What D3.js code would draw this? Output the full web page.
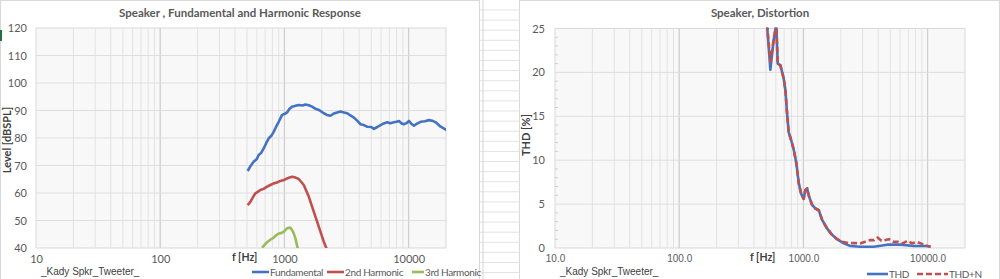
<!DOCTYPE html>
<html><head><meta charset="utf-8">
<script src="https://cdn.jsdelivr.net/npm/d3@7"></script>
<style>
html,body{margin:0;padding:0;background:#fff;}
svg{display:block;}
</style></head>
<body>
<svg id="c" width="1000" height="279"></svg>
<script>
// ---------- data ----------
const fundFreq = [506,530,565,600,621,650,681,715,748,785,821,860,900,958,1000,1051,1100,1154,1230,1305,1400,1477,1570,1671,1780,1891,2075,2200,2349,2500,2660,2831,3010,3206,3400,3626,3850,4103,4400,4644,5000,5254,5600,5944,6300,6726,7100,7613,8000,8356,8800,9163,9600,10060,10500,11040,11700,12500,13500,14590,15500,16520,18110,20240];
const fundLevel = [68.0,69.6,71.4,72.4,73.8,74.6,76.2,78.2,79.9,80.8,82.3,84.2,85.9,88.4,88.7,89.3,90.6,91.4,91.7,92.0,91.8,92.2,91.9,91.4,90.6,90.2,89.0,88.4,88.1,88.9,89.3,89.6,89.3,89.0,88.2,87.4,86.3,85.0,84.6,84.1,84.0,83.3,84.0,84.7,85.3,85.7,85.4,85.7,85.9,86.2,85.3,85.0,85.4,86.2,85.2,84.5,85.2,85.9,86.1,86.5,86.3,85.7,84.1,82.9];
const h2Freq = [506,520,532,560,584,610,640,680,725,770,820,870,929,990,1051,1100,1154,1230,1305,1432,1571,1723,1891,2075,2183];
const h2Level = [55.6,56.2,56.8,58.6,59.9,60.4,61.1,61.5,62.3,62.9,63.5,63.8,64.4,64.7,65.3,65.6,65.9,65.6,65.1,62.9,58.7,53.2,47.8,42.3,39.8];
const h3Freq = [661,690,725,770,820,860,900,940,987,1051,1117,1175,1227,1281];
const h3Level = [40.1,41.1,42.1,43.0,43.8,44.6,45.3,45.4,45.9,47.2,47.4,45.9,43.5,39.8];

const thdFreq = [509,542,576,605,621,653,694,716,739,761,796,836,879,917,958,1005,1037,1071,1103,1175,1250,1329,1415,1553,1703,1869,2113,2393,2882,3691,4731,6056,7755,9950,10570];
const thdVal  = [25.5,20.3,23.7,25.5,21.0,20.8,19.3,18.0,15.3,13.2,12.3,11.2,9.6,7.4,6.2,5.6,6.6,6.8,6.0,4.9,4.5,4.3,3.2,2.2,1.5,1.0,0.53,0.23,0.15,0.15,0.38,0.38,0.23,0.23,0.15];
const thdnFreq = [509,542,576,605,621,653,694,716,739,761,796,836,879,917,958,1005,1037,1071,1103,1175,1250,1329,1415,1553,1703,1869,2050,2300,2650,2882,3150,3450,3700,3950,4250,4550,4900,5300,5750,6300,6900,7500,8200,8900,9950,10570];
const thdnVal  = [25.5,21.2,23.7,25.5,21.0,20.8,19.3,18.0,15.3,13.2,12.3,11.2,9.6,7.4,6.2,5.6,6.6,6.8,6.0,4.9,4.5,4.3,3.2,2.2,1.5,1.0,0.72,0.55,0.55,0.53,0.72,0.9,0.9,1.2,0.83,0.9,1.0,0.72,0.72,0.53,0.83,0.53,0.7,0.5,0.23,0.15];

const leftTitle = "Speaker , Fundamental and Harmonic Response";
const rightTitle = "Speaker, Distortion";
const leftYTicks = [40,50,60,70,80,90,100,110,120];
const leftXTicks = [10,100,1000,10000];
const rightYTicks = [0,5,10,15,20,25];
const rightXTicks = [10,100,1000,10000];
const leftLegend = ["Fundamental","2nd Harmonic","3rd Harmonic"];
const rightLegend = ["THD","THD+N"];

// ---------- drawing ----------
const svg = d3.select("#c");
const calibri = "Lato, 'Open Sans', sans-serif";
const arial = "'Liberation Sans', Arial, sans-serif";
const txt = "#595959";

const sheet = svg.append("g");
for (let y = 10; y < 279; y += 10.1) {
  sheet.append("line").attr("x1",480).attr("x2",519).attr("y1",y).attr("y2",y).attr("stroke","#e3e3e3").attr("stroke-width",1);
}
sheet.append("line").attr("x1",483).attr("x2",483).attr("y1",0).attr("y2",279).attr("stroke","#d4d4d4");
svg.append("rect").attr("x",0.5).attr("y",0.5).attr("width",479).attr("height",290).attr("fill","#fff").attr("stroke","#d9d9d9");
svg.append("rect").attr("x",519.5).attr("y",0.5).attr("width",480).attr("height",290).attr("fill","#fff").attr("stroke","#d9d9d9");
svg.append("rect").attr("x",0).attr("y",30).attr("width",2).attr("height",11).attr("fill","#217346");

function minorFreqs(lo, hi) {
  const out = [];
  for (let d = 10; d < hi; d *= 10) for (let k = 1; k <= 9; k++) { const f = k*d; if (f > lo && f < hi) out.push(f); }
  return out;
}

function makeChart(cfg) {
  const g = svg.append("g");
  const x = d3.scaleLog().domain([10,20000]).range([cfg.x0, cfg.x1]);
  const y = d3.scaleLinear().domain(cfg.yDomain).range([cfg.y1, cfg.y0]);
  g.append("rect").attr("x",cfg.x0).attr("y",cfg.y0).attr("width",cfg.x1-cfg.x0).attr("height",cfg.y1-cfg.y0)
    .attr("fill","#f8f8f8").attr("stroke","#d9d9d9");
  minorFreqs(10,20000).forEach(f => {
    const major = [100,1000,10000].includes(f);
    g.append("line").attr("x1",x(f)).attr("x2",x(f)).attr("y1",cfg.y0).attr("y2",cfg.y1)
      .attr("stroke", major ? "#cfcfcf" : "#e2e2e2").attr("stroke-width", major ? 1.3 : 1);
  });
  cfg.yTicks.forEach(v => {
    if (v === cfg.yDomain[0] || v === cfg.yDomain[1]) return;
    g.append("line").attr("x1",cfg.x0).attr("x2",cfg.x1).attr("y1",y(v)).attr("y2",y(v)).attr("stroke","#dedede");
  });
  if (cfg.minorY) {
    d3.range(cfg.yDomain[0], cfg.yDomain[1]+0.01, 1).forEach(v => {
      if (v % 5 === 0) return;
      g.append("line").attr("x1",cfg.x0).attr("x2",cfg.x0+3).attr("y1",y(v)).attr("y2",y(v)).attr("stroke","#cfcfcf");
    });
  }
  const yAxis = d3.axisLeft(y).tickValues(cfg.yTicks).tickSize(0).tickPadding(0);
  const ya = g.append("g").attr("transform",`translate(${cfg.yLabX},0)`).call(yAxis);
  ya.select(".domain").remove();
  ya.selectAll("text").attr("fill",txt).style("font-family",cfg.yFont).style("font-size",cfg.yFontSize);
  const xAxis = d3.axisBottom(x).tickValues(cfg.xTicks).tickSize(0).tickPadding(0).tickFormat(cfg.xFmt);
  const xa = g.append("g").attr("transform",`translate(0,${cfg.xLabY})`).call(xAxis);
  xa.select(".domain").remove();
  xa.selectAll("text").attr("fill",txt).style("font-family",cfg.xFont).style("font-size",cfg.xFontSize);
  g.append("text").attr("x",cfg.titleX).attr("y",17).attr("text-anchor","middle").attr("fill",txt)
    .style("font-family",calibri).style("font-size","11.5px").style("font-weight","bold").text(cfg.title);
  g.append("text").attr("transform",`translate(${cfg.yTitleX},${cfg.yTitleY}) rotate(-90)`).attr("text-anchor","middle")
    .attr("fill","#404040").style("font-family",calibri).style("font-size","11px").style("font-weight","bold").text(cfg.yTitle);
  g.append("text").attr("x",cfg.fhzX).attr("y",261).attr("fill","#404040")
    .style("font-family",calibri).style("font-size","10.5px").style("font-weight","bold").text("f [Hz]");
  g.append("text").attr("x",cfg.kadyX).attr("y",275).attr("fill","#404040")
    .style("font-family",arial).style("font-size","10px").text("_Kady Spkr_Tweeter_");
  const id = "clip" + cfg.x0;
  svg.append("clipPath").attr("id",id).append("rect").attr("x",cfg.x0).attr("y",cfg.y0-1).attr("width",cfg.x1-cfg.x0).attr("height",cfg.y1-cfg.y0+1);
  const lg = g.append("g").attr("clip-path",`url(#${id})`);
  const line = d3.line().x(d => x(d[0])).y(d => y(d[1]));
  cfg.series.forEach(s => {
    lg.append("path").datum(d3.zip(s.f, s.v)).attr("d",line).attr("fill","none")
      .attr("stroke",s.color).attr("stroke-width",2.6).attr("stroke-linejoin","round")
      .attr("stroke-dasharray", s.dash || null);
  });
  cfg.legend.forEach(l => {
    g.append("line").attr("x1",l.x).attr("x2",l.x+l.len).attr("y1",cfg.legY).attr("y2",cfg.legY)
      .attr("stroke",l.color).attr("stroke-width",2.6).attr("stroke-dasharray", l.dash || null);
    g.append("text").attr("x",l.x+l.len+1).attr("y",cfg.legY+3.5).attr("fill",txt)
      .style("font-family",calibri).style("font-size","10px").style("letter-spacing","-0.35px").text(l.name);
  });
}

makeChart({
  x0:36, x1:446, y0:28, y1:248, yDomain:[40,120], yTicks:leftYTicks, xTicks:leftXTicks,
  xFmt: d => String(d), yLabX:27, xLabY:255, yFont:calibri, yFontSize:"11px", xFont:calibri, xFontSize:"11px",
  title:leftTitle, titleX:240, yTitle:"Level [dBSPL]", yTitleX:11, yTitleY:140, fhzX:232, kadyX:41,
  series:[
    {f:fundFreq, v:fundLevel, color:"#4472C4"},
    {f:h2Freq, v:h2Level, color:"#C0504D"},
    {f:h3Freq, v:h3Level, color:"#9BBB59"}
  ],
  legY:272,
  legend:[
    {name:leftLegend[0], color:"#4472C4", x:252, len:17},
    {name:leftLegend[1], color:"#C0504D", x:327, len:17},
    {name:leftLegend[2], color:"#9BBB59", x:412, len:12}
  ]
});

makeChart({
  x0:555, x1:965, y0:28.5, y1:248, yDomain:[0,25], yTicks:rightYTicks, xTicks:rightXTicks, minorY:true,
  xFmt: d => d.toFixed(1), yLabX:545, xLabY:255, yFont:calibri, yFontSize:"11px", xFont:arial, xFontSize:"10px",
  title:rightTitle, titleX:760, yTitle:"THD [%]", yTitleX:530, yTitleY:135, fhzX:750, kadyX:560,
  series:[
    {f:thdFreq, v:thdVal, color:"#4472C4"},
    {f:thdnFreq, v:thdnVal, color:"#C0504D", dash:"6,3"}
  ],
  legY:274,
  legend:[
    {name:rightLegend[0], color:"#4472C4", x:867, len:21},
    {name:rightLegend[1], color:"#C0504D", x:917, len:31, dash:"6,3"}
  ]
});
</script>
</body></html>
